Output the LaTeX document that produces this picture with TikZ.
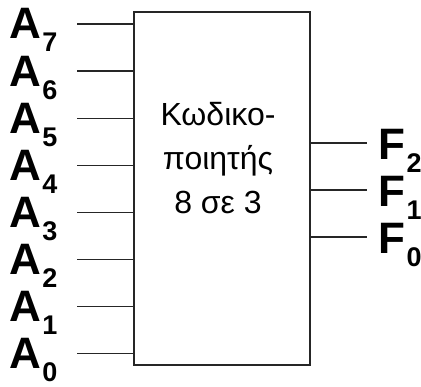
\documentclass[tikz,border=0pt]{standalone}
\usepackage{fontspec}
\setmainfont{Liberation Sans}
\begin{document}
\begin{tikzpicture}[x=1pt,y=-1pt,
  pin/.style={line width=1.3pt,draw=black!85},
  lbl/.style={inner sep=0pt,anchor=base west,font=\bfseries\fontsize{44}{44}\selectfont},
  blk/.style={draw=black!85,line width=1.3pt,inner sep=0pt,minimum width=176pt,minimum height=353pt}]
\newcommand{\subdig}[1]{\kern1.5pt\raisebox{-13pt}{\fontsize{27}{27}\selectfont #1}}
\useasboundingbox (0,0) rectangle (421,387);
\node[blk] (box) at (222,188.5) {};
\node[inner sep=0pt,anchor=base,align=center,font=\fontsize{32}{44}\selectfont] (txt) at (218,214) {Κωδικο-\\ποιητής\\8 σε 3};
% inputs
\foreach \i/\k in {7/0,6/1,5/2,4/3,3/4,2/5,1/6,0/7}{
  \node[lbl] (a\i) at (9,{39+47.1*\k}) {A\subdig{\i}};
  \coordinate (p\i) at (77,{24+47.1*\k});
  \draw[pin] (p\i) -- (p\i -| box.west);
}
% outputs
\foreach \i/\k in {2/0,1/1,0/2}{
  \node[lbl] (f\i) at (378,{160+47*\k}) {F\subdig{\i}};
  \coordinate (q\i) at (367,{143+47*\k});
  \draw[pin] (q\i -| box.east) -- (q\i);
}
\end{tikzpicture}
\end{document}
